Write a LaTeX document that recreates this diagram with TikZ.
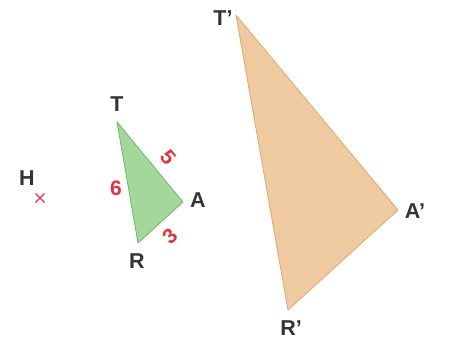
\documentclass[tikz,border=0pt]{standalone}
\usepackage{fontspec}
\setmainfont{Liberation Sans}
\definecolor{greenfill}{HTML}{A3D89A}
\definecolor{greenline}{HTML}{6DB86A}
\definecolor{orangefill}{HTML}{EFC9A0}
\definecolor{orangeline}{HTML}{E2A86E}
\definecolor{redlab}{HTML}{E6323E}
\definecolor{txt}{HTML}{333333}
\begin{document}
\begin{tikzpicture}[x=1pt,y=-1pt,
  vlabel/.style={text=txt,font=\fontsize{21.5}{24}\selectfont\bfseries,inner sep=0pt},
  numlabel/.style={text=redlab,font=\fontsize{21}{24}\selectfont\bfseries,inner sep=0pt},
  small/.style={fill=greenfill,draw=greenline,line width=0.8pt,line join=round},
  big/.style={fill=orangefill,draw=orangeline,line width=0.8pt,line join=round}]
\useasboundingbox (0,0) rectangle (469,349);
% small triangle
\coordinate (T) at (117,122);
\coordinate (A) at (183,202);
\coordinate (R) at (138,243);
\filldraw[small] (T) -- (A) -- (R) -- cycle;
\node[vlabel] (lT) at (117,104) {T};
\node[vlabel] (lA) at (198,200) {A};
\node[vlabel] (lR) at (137,261) {R};
\node[numlabel,rotate=-50] (n5) at (168,157) {5};
\node[numlabel] (n6) at (116,188) {6};
\node[numlabel,rotate=42] (n3) at (170,236) {3};
% point H
\node[vlabel] (lH) at (27,178) {H};
\coordinate (X) at (40,198);
\draw[redlab,line width=1.4pt] ([shift={(-4.5,-4.5)}]X) -- ([shift={(4.5,4.5)}]X);
\draw[redlab,line width=1.4pt] ([shift={(-4.5,4.5)}]X) -- ([shift={(4.5,-4.5)}]X);
% big triangle
\coordinate (T2) at (236,15);
\coordinate (A2) at (398,210);
\coordinate (R2) at (288,310);
\filldraw[big] (T2) -- (A2) -- (R2) -- cycle;
\node[vlabel] (lT2) at (223,18) {T’};
\node[vlabel] (lA2) at (415,211) {A’};
\node[vlabel] (lR2) at (291,328) {R’};
\end{tikzpicture}
\end{document}
